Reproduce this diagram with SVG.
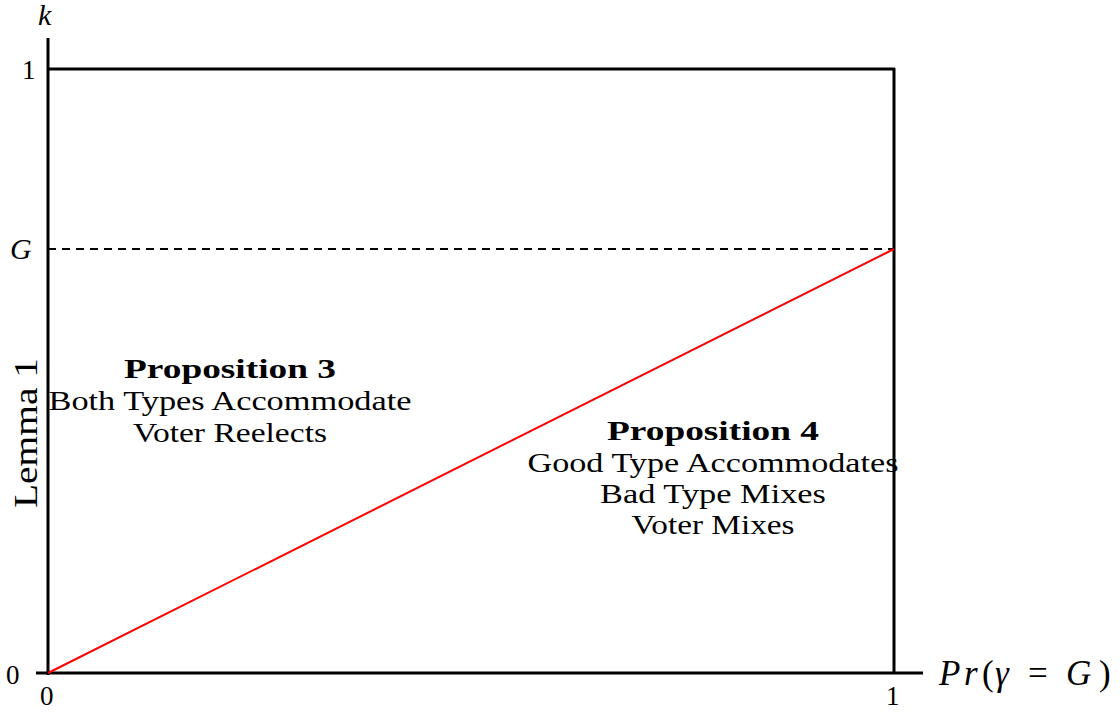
<svg xmlns="http://www.w3.org/2000/svg" width="1120" height="713" viewBox="0 0 1120 713">
<style>
.ax{stroke:#000;stroke-width:3;fill:none}
.t{font-family:"Liberation Serif","Times New Roman",serif;font-size:27px;fill:#000}
.i{font-style:italic}
.b{font-weight:bold}
</style>
<rect width="1120" height="713" fill="#fff"/>
<g id="axes">
<line class="ax" x1="48" y1="38" x2="48" y2="675"/>
<line class="ax" x1="36" y1="673" x2="923" y2="673"/>
<line class="ax" x1="47" y1="69" x2="895" y2="69"/>
<line class="ax" x1="894" y1="68" x2="894" y2="673"/>
</g>
<g id="connectors">
<line x1="48" y1="249" x2="894" y2="249" stroke="#000" stroke-width="2" stroke-dasharray="8,6"/>
<line x1="48" y1="673" x2="894" y2="249" stroke="#f00" stroke-width="2"/>
</g>
<g id="labels">
<text class="t i" x="38" y="25" style="font-size:30px">k</text>
<text class="t" x="22" y="79">1</text>
<text class="t i" x="10" y="259" style="font-size:30px">G</text>
<text class="t" x="6" y="684">0</text>
<text class="t" x="40" y="705">0</text>
<text class="t" x="886" y="705">1</text>
<text class="t" y="685" style="font-size:35px"><tspan x="939" font-style="italic">P</tspan><tspan x="964" font-style="italic">r</tspan><tspan x="982">(</tspan><tspan x="995" font-style="italic">γ</tspan><tspan x="1028">=</tspan><tspan x="1066" font-style="italic">G</tspan><tspan x="1099">)</tspan></text>
<text class="t" transform="translate(37,433) rotate(-90)" text-anchor="middle" style="font-size:34px" textLength="150" lengthAdjust="spacingAndGlyphs">Lemma 1</text>
</g>
<g id="prop3">
<text class="t b" x="230" y="378" text-anchor="middle" textLength="212" lengthAdjust="spacingAndGlyphs">Proposition 3</text>
<text class="t" x="230" y="410" text-anchor="middle" textLength="363" lengthAdjust="spacingAndGlyphs">Both Types Accommodate</text>
<text class="t" x="230" y="442" text-anchor="middle" textLength="194" lengthAdjust="spacingAndGlyphs">Voter Reelects</text>
</g>
<g id="prop4">
<text class="t b" x="713" y="440" text-anchor="middle" textLength="212" lengthAdjust="spacingAndGlyphs">Proposition 4</text>
<text class="t" x="713" y="472" text-anchor="middle" textLength="371" lengthAdjust="spacingAndGlyphs">Good Type Accommodates</text>
<text class="t" x="713" y="503" text-anchor="middle" textLength="226" lengthAdjust="spacingAndGlyphs">Bad Type Mixes</text>
<text class="t" x="713" y="534" text-anchor="middle" textLength="163" lengthAdjust="spacingAndGlyphs">Voter Mixes</text>
</g>
</svg>
